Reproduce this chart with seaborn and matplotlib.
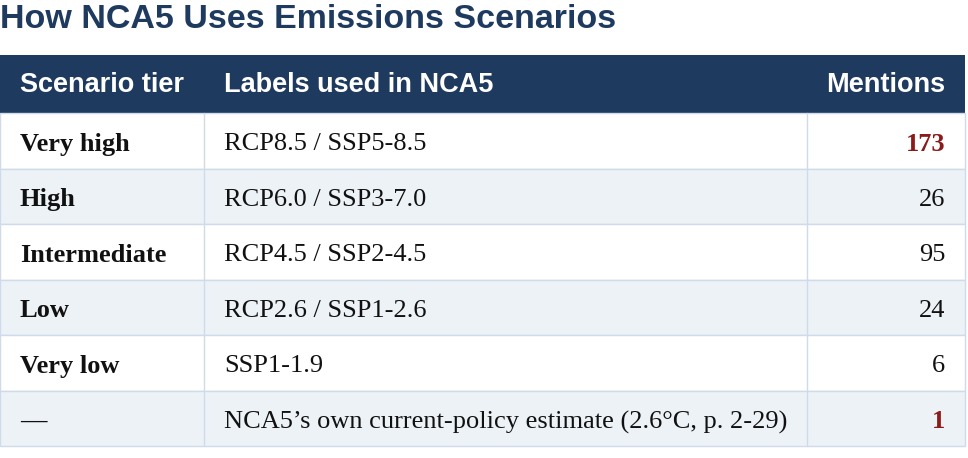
import matplotlib
matplotlib.use("Agg")
import matplotlib.pyplot as plt
import seaborn as sns
from matplotlib.patches import Rectangle

sns.set_theme(style="white")

title = "How NCA5 Uses Emissions Scenarios"
headers = ["Scenario tier", "Labels used in NCA5", "Mentions"]
tiers = ["Very high", "High", "Intermediate", "Low", "Very low", "\u2014"]
labels = ["RCP8.5 / SSP5-8.5", "RCP6.0 / SSP3-7.0", "RCP4.5 / SSP2-4.5",
          "RCP2.6 / SSP1-2.6", "SSP1-1.9",
          "NCA5\u2019s own current-policy estimate (2.6\u00b0C, p. 2-29)"]
mentions = [173, 26, 95, 24, 6, 1]
highlight = [True, False, False, False, False, True]

W, H = 968, 458
fig = plt.figure(figsize=(W/100, H/100), dpi=100)
ax = fig.add_axes([0, 0, 1, 1])
ax.set_xlim(0, W); ax.set_ylim(H, 0); ax.axis("off")

navy = "#1f3a5f"
x0, x1, x2, x3 = 0, 204, 807, 965
top, hh, rh = 55, 58, 55.5

ax.text(0, 20, title, fontsize=24.5, fontweight="bold", color=navy,
        family="Liberation Sans", va="center", ha="left")

ax.add_patch(Rectangle((x0, top), x3-x0, hh, color=navy, lw=0))
hy = top + hh/2 + 1
for txt, x, ha in [(headers[0], x0+20, "left"), (headers[1], x1+20, "left"), (headers[2], x3-20, "right")]:
    ax.text(x, hy, txt, color="white", fontsize=19.5, fontweight="bold",
            family="Liberation Sans", va="center", ha=ha)

border = "#cfdbe9"
fs = 19
for i, (t, l, m, h) in enumerate(zip(tiers, labels, mentions, highlight)):
    y = top + hh + i*rh
    fc = "white" if i % 2 == 0 else "#edf2f7"
    ax.add_patch(Rectangle((x0, y), x3-x0, rh, facecolor=fc, edgecolor=border, lw=1))
    cy = y + rh/2 + 1
    ax.text(x0+20, cy, t, fontsize=fs, fontweight="bold", family="Liberation Serif",
            color="#111111", va="center_baseline", ha="left")
    ax.text(x1+20, cy, l, fontsize=fs, family="Liberation Serif",
            color="#111111", va="center_baseline", ha="left")
    ax.text(x3-20, cy, str(m), fontsize=fs, family="Liberation Serif",
            fontweight="bold" if h else "normal",
            color="#8b1a1a" if h else "#111111", va="center_baseline", ha="right")
    for xv in (x1, x2):
        ax.plot([xv, xv], [y, y+rh], color=border, lw=1)

fig.savefig("out.png", dpi=100)
